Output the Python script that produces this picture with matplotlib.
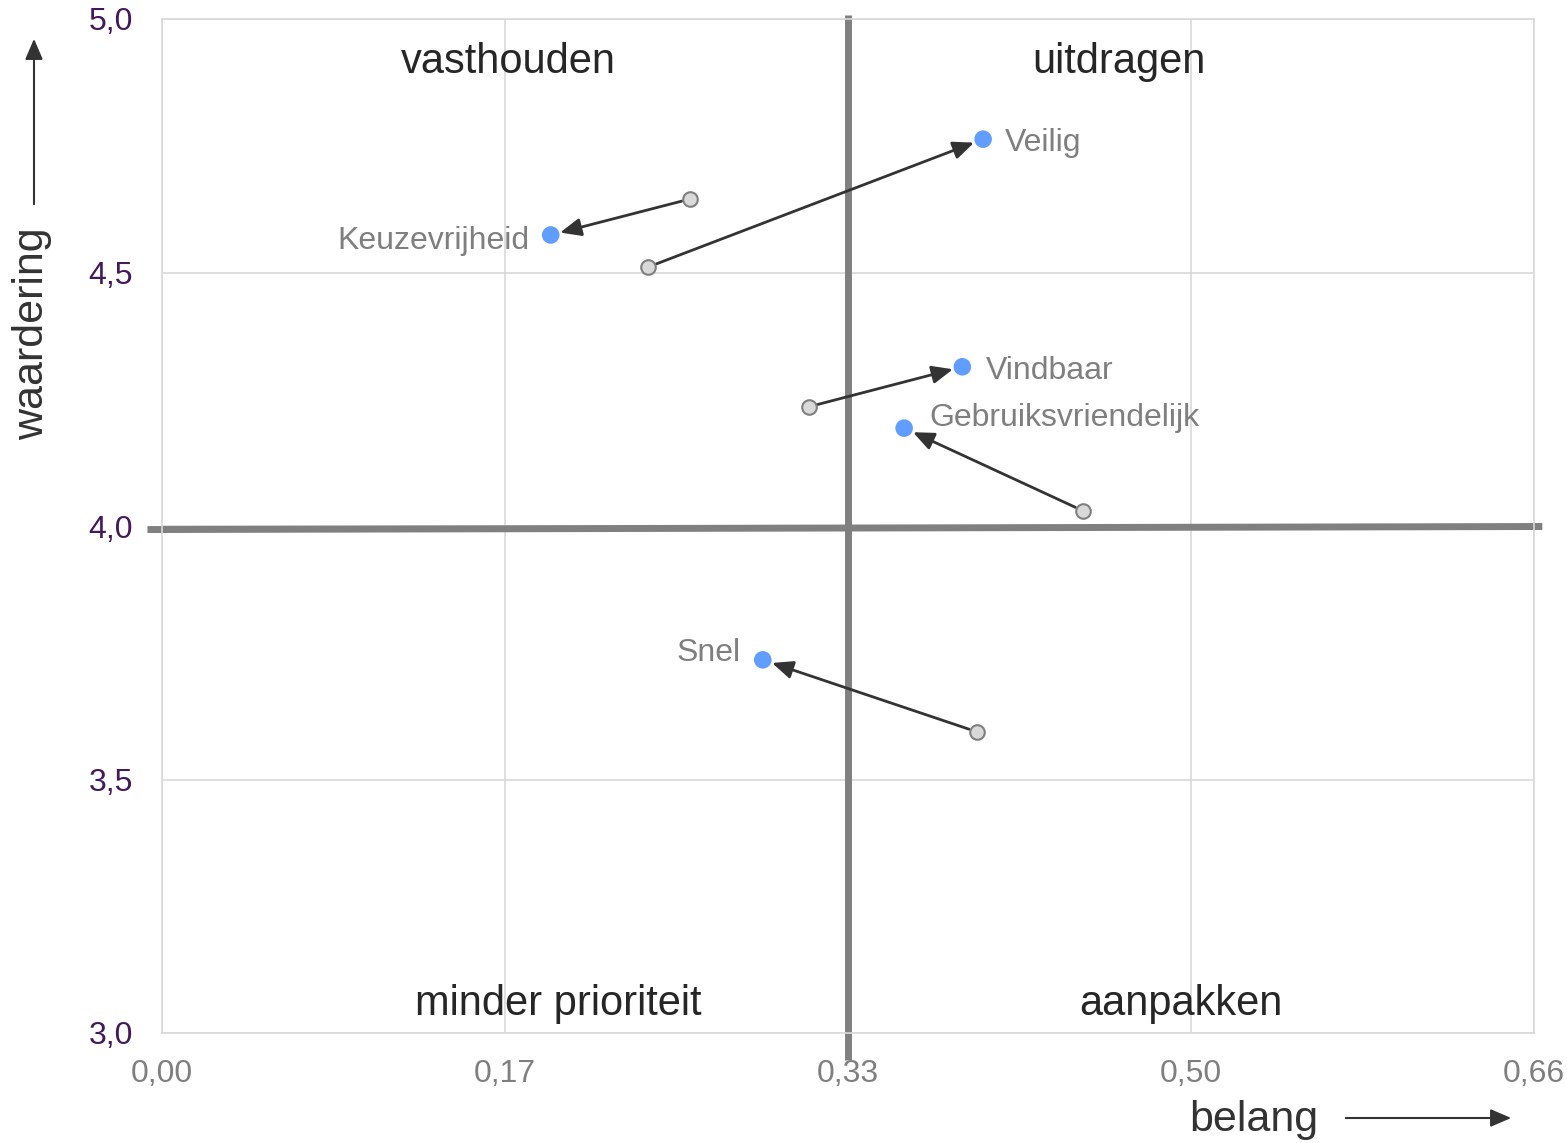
import numpy as np
import matplotlib
matplotlib.use('Agg')
import matplotlib.pyplot as plt

plt.rcParams['font.family'] = ['Liberation Sans', 'DejaVu Sans']

# data: belang (x) and waardering (y), old -> new
labels = ['Veilig', 'Keuzevrijheid', 'Vindbaar', 'Gebruiksvriendelijk', 'Snel']
x_old = [0.234, 0.254, 0.311, 0.443, 0.392]
y_old = [4.511, 4.645, 4.235, 4.030, 3.594]
x_new = [0.395, 0.187, 0.385, 0.357, 0.289]
y_new = [4.763, 4.574, 4.314, 4.193, 3.736]

x_ticks = [0.0, 0.165, 0.33, 0.495, 0.66]
x_ticklabels = ['0,00', '0,17', '0,33', '0,50', '0,66']
y_ticks = [3.0, 3.5, 4.0, 4.5, 5.0]
y_ticklabels = ['3,0', '3,5', '4,0', '4,5', '5,0']

quadrants = ['vasthouden', 'uitdragen', 'minder prioriteit', 'aanpakken']

W, H = 1567, 1143
fig = plt.figure(figsize=(W / 100, H / 100), dpi=100)
ax = fig.add_axes([162 / W, 1 - 1033 / H, (1534 - 162) / W, (1033 - 19) / H])

ax.set_xlim(0, 0.66)
ax.set_ylim(3.0, 5.0)
ax.set_xticks(x_ticks)
ax.set_xticklabels(x_ticklabels, fontsize=23, color='#7f7f7f')
ax.set_yticks(y_ticks)
ax.set_yticklabels(y_ticklabels, fontsize=23, color='#44195c')
ax.tick_params(axis='both', length=0)
ax.tick_params(axis='x', pad=19)
ax.tick_params(axis='y', pad=21)
ax.grid(True, color='#d9d9d9', lw=1.2)
ax.set_axisbelow(True)
for s in ax.spines.values():
    s.set_color('#d9d9d9')
    s.set_linewidth(1.2)

# quadrant lines
ax.plot([0.33, 0.33], [5.008, 2.946], color='#808080', lw=5, clip_on=False, zorder=2,
        solid_capstyle='butt')
ax.plot([-0.007, 0.664], [3.993, 3.999], color='#808080', lw=5, clip_on=False, zorder=2,
        solid_capstyle='butt')

# quadrant names
qkw = dict(fontsize=30, color='#262626', ha='center', va='center')
ax.text(0.1664, 4.915, quadrants[0], **qkw)
ax.text(0.4604, 4.915, quadrants[1], **qkw)
ax.text(0.1905, 3.057, quadrants[2], **qkw)
ax.text(0.4902, 3.057, quadrants[3], **qkw)

# arrows old -> new
for i in range(len(labels)):
    ax.annotate('', xy=(x_new[i], y_new[i]), xytext=(x_old[i], y_old[i]),
                arrowprops=dict(arrowstyle='-|>,head_length=0.7,head_width=0.3',
                                color='#333333', lw=2, shrinkA=6, shrinkB=7,
                                mutation_scale=18), zorder=3)

ax.scatter(x_old, y_old, s=110, color='#d9d9d9', edgecolor='#7f7f7f', lw=1.5, zorder=4)
ax.scatter(x_new, y_new, s=160, color='#619cff', edgecolor='none', zorder=4)

# point labels
offsets = [(16, -3, 'left'), (-15, -4, 'right'), (17, -3, 'left'), (18, 7, 'left'), (-16, 5, 'right')]
for i, lab in enumerate(labels):
    dx, dy, ha = offsets[i]
    ax.annotate(lab, (x_new[i], y_new[i]), xytext=(dx, dy), textcoords='offset points',
                fontsize=23, color='#7f7f7f', ha=ha, va='center', zorder=5)

# axis titles with arrows
fig.text(32 / W, 1 - 334 / H, 'waardering', rotation=90, fontsize=31, color='#333333',
         ha='center', va='center')
fig.patches.append(matplotlib.patches.FancyArrowPatch(
    (34 / W, 1 - 207 / H), (34 / W, 1 - 36 / H), transform=fig.transFigure,
    arrowstyle='-|>,head_length=0.7,head_width=0.3', mutation_scale=18,
    color='#333333', lw=1.5))
fig.text(1254 / W, 1 - 1120 / H, 'belang', fontsize=31, color='#333333',
         ha='center', va='center')
fig.patches.append(matplotlib.patches.FancyArrowPatch(
    (1343 / W, 1 - 1118 / H), (1514 / W, 1 - 1118 / H), transform=fig.transFigure,
    arrowstyle='-|>,head_length=0.7,head_width=0.3', mutation_scale=18,
    color='#333333', lw=1.5))

fig.savefig('out.png', dpi=100)
